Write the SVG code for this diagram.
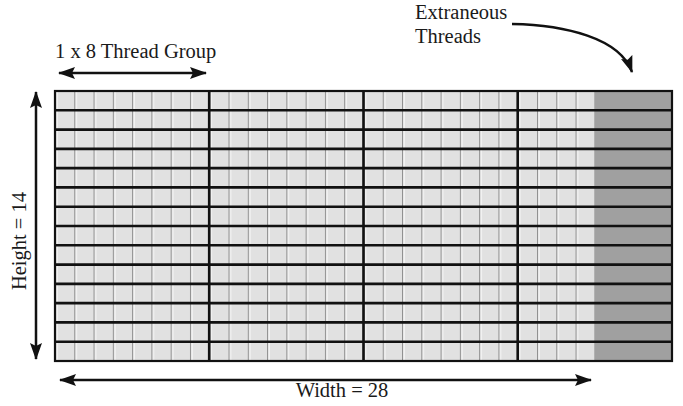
<svg xmlns="http://www.w3.org/2000/svg" width="683" height="406" viewBox="0 0 683 406">
<style>
  .lbl { font-family: "Liberation Serif", "Times New Roman", serif; font-size: 20.5px; fill: #1a1a1a; }
  .arr { stroke: #111; stroke-width: 2.5; fill: none; }
  .thick { stroke: #111; stroke-width: 2.6; fill: none; }
</style>
<defs>
  <marker id="ah" markerUnits="userSpaceOnUse" markerWidth="20" markerHeight="14" refX="16" refY="7" orient="auto-start-reverse" viewBox="0 0 20 14">
    <path d="M0,1 L17,7 L0,13 L3,7 Z" fill="#111"/>
  </marker>
  <pattern id="cols" patternUnits="userSpaceOnUse" x="55" y="0" width="19.28" height="406">
    <rect x="0" y="0" width="19.28" height="406" fill="#e1e1e1"/>
    <rect x="0" y="0" width="1.3" height="406" fill="#8f8f8f"/>
    <rect x="1.3" y="0" width="1.3" height="406" fill="#fafafa"/>
  </pattern>
</defs>
<rect width="683" height="406" fill="#ffffff"/>

<g id="grid">
  <rect x="55" y="91" width="539.2" height="270" fill="url(#cols)"/>
  <rect id="extraneous-threads" x="594.2" y="91" width="77.8" height="270" fill="#a0a0a0"/>
  <path class="thick" d="M55 110.3H672M55 129.6H672M55 148.9H672M55 168.1H672M55 187.4H672M55 206.7H672M55 226H672M55 245.3H672M55 264.6H672M55 283.9H672M55 303.1H672M55 322.4H672M55 341.7H672"/>
  <path class="thick" d="M209.2 91V361M363.5 91V361M517.7 91V361"/>
  <rect x="55" y="91" width="617" height="270" fill="none" stroke="#111" stroke-width="2.2"/>
</g>

<g id="connectors">
  <line class="arr" x1="59" y1="73" x2="206" y2="73" marker-start="url(#ah)" marker-end="url(#ah)"/>
  <line class="arr" x1="36" y1="92" x2="36" y2="359" marker-start="url(#ah)" marker-end="url(#ah)"/>
  <line class="arr" x1="60" y1="380" x2="591" y2="380" marker-start="url(#ah)" marker-end="url(#ah)"/>
  <path class="arr" d="M512 24 C565 25 620 38 632 72" marker-end="url(#ah)"/>
</g>

<g id="labels">
  <text class="lbl" x="55" y="58">1 x 8 Thread Group</text>
  <text class="lbl" x="415" y="19">Extraneous</text>
  <text class="lbl" x="415" y="43">Threads</text>
  <text class="lbl" x="342" y="397" text-anchor="middle">Width = 28</text>
  <text class="lbl" transform="translate(26 241) rotate(-90)" text-anchor="middle">Height = 14</text>
</g>
</svg>
